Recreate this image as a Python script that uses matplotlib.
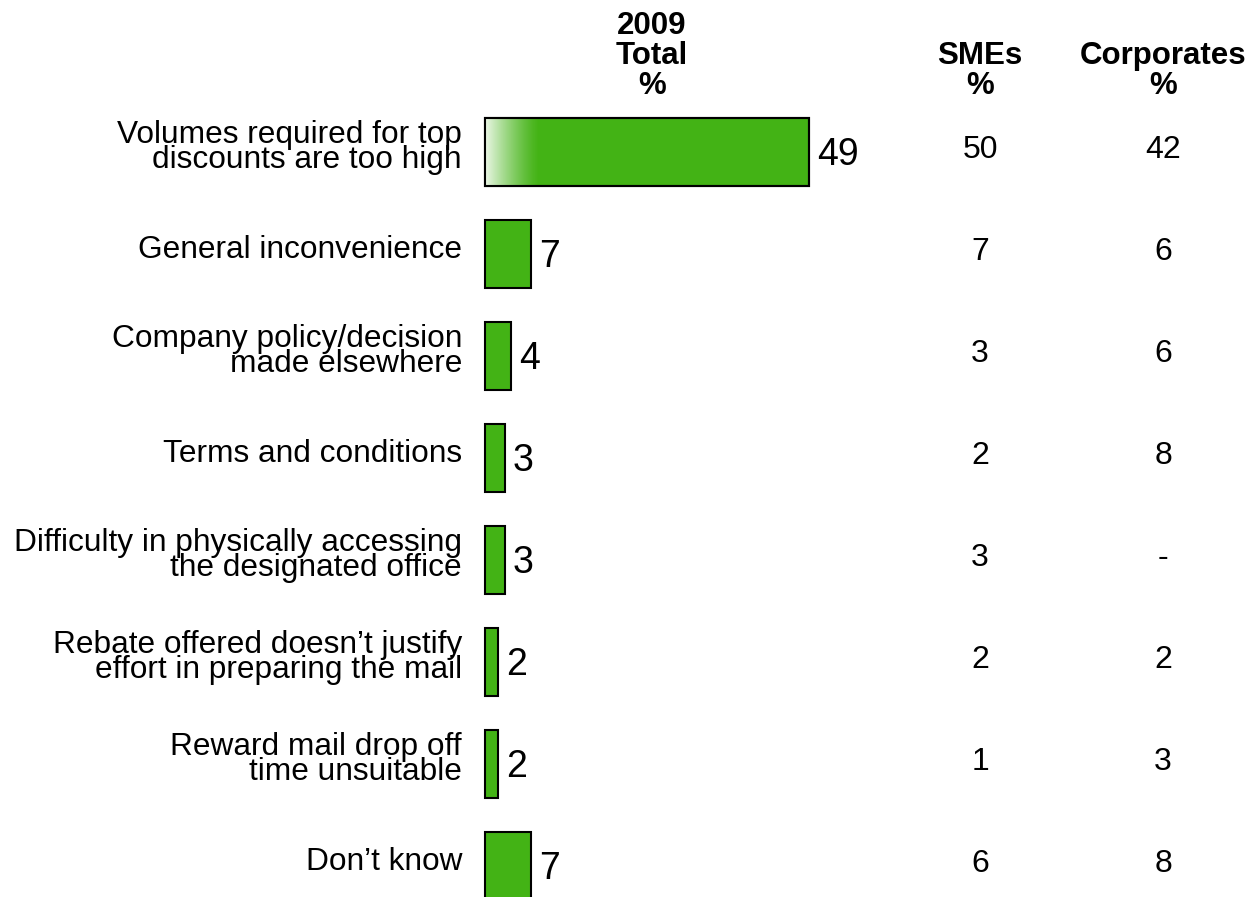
import matplotlib.pyplot as plt
import numpy as np

plt.rcParams['font.family'] = ['Liberation Sans', 'DejaVu Sans']

# data
labels = [
    "Volumes required for top\ndiscounts are too high",
    "General inconvenience",
    "Company policy/decision\nmade elsewhere",
    "Terms and conditions",
    "Difficulty in physically accessing\nthe designated office",
    "Rebate offered doesn\u2019t justify\neffort in preparing the mail",
    "Reward mail drop off\ntime unsuitable",
    "Don\u2019t know",
]
total = [49, 7, 4, 3, 3, 2, 2, 7]
smes = ["50", "7", "3", "2", "3", "2", "1", "6"]
corporates = ["42", "6", "6", "8", "-", "2", "3", "8"]

W, H = 1250, 897
green = "#43B315"

fig = plt.figure(figsize=(W / 100, H / 100), dpi=100)
ax = fig.add_axes([0, 0, 1, 1])
ax.axis('off')

# pixel layout: bars start at x=485, 49 units ~ 324 px, rows 102 px apart
ppu = 324 / 49
x0 = 485

rows = np.arange(len(labels))
bars = ax.barh(rows, total, height=0.667, color=green, edgecolor='black',
               linewidth=1.5, zorder=2)

# white fade on the left of the first bar
t = np.linspace(0, 1, 200)
grad = np.zeros((1, 200, 4))
grad[..., 0:3] = 1.0
grad[0, :, 3] = 0.9 * (1 - t) ** 1.3
fade_w = 55 / ppu
ax.imshow(grad, extent=[0, fade_w, rows[0] + 0.333, rows[0] - 0.333],
          aspect='auto', zorder=3, interpolation='bilinear')
ax.barh(rows[:1], total[:1], height=0.667, color='none', edgecolor='black',
        linewidth=1.5, zorder=4)
ax.set_xlim(-x0 / ppu, (W - x0) / ppu)
ax.set_ylim((H - 152) / 102, -152 / 102)

tr = ax.get_yaxis_transform()
for i, (lab, v, s, c) in enumerate(zip(labels, total, smes, corporates)):
    ax.text(462 / W, i - 0.04, lab, transform=tr, ha='right', va='center',
            fontsize=22.8, linespacing=0.78)
    ax.text(v + 8 / ppu, i + 0.03, str(v), ha='left', va='center', fontsize=27)
    ax.text(980 / W, i - 0.02, s, transform=tr, ha='center', va='center', fontsize=23)
    ax.text(1163 / W, i - 0.02, c, transform=tr, ha='center', va='center', fontsize=23)

hy = 1 - 101 / H
for xp, head in [(652, "2009\nTotal\n%"), (980, "SMEs\n%"), (1163, "Corporates\n%")]:
    fig.text(xp / W, hy, head, ha='center', va='bottom',
             fontsize=22.5, fontweight='bold', linespacing=1.0)

fig.savefig('out.png', dpi=100)
